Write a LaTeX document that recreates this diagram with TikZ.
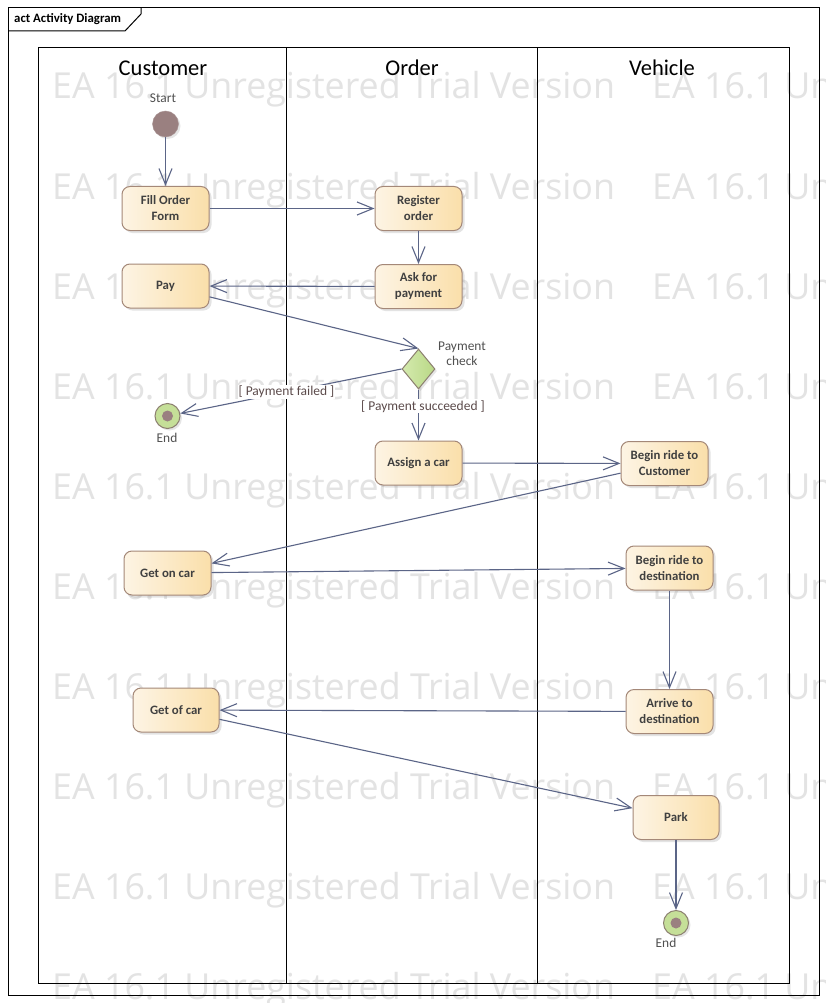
\documentclass[tikz,border=0pt]{standalone}
\usepackage{fontspec}
\setmainfont{Carlito}
\newfontfamily\wmfont{Open Sans}
\usetikzlibrary{arrows.meta,shapes.geometric,shadows}
\definecolor{edgec}{HTML}{5B6587}
\definecolor{nodeL}{HTML}{FDF4E4}
\definecolor{nodeR}{HTML}{FADFAA}
\definecolor{nodeB}{HTML}{A48878}
\definecolor{txt}{HTML}{404040}
\definecolor{lbl}{HTML}{505050}
\definecolor{guardc}{HTML}{5C4B4B}
\definecolor{startc}{HTML}{9A8080}
\definecolor{endg}{HTML}{C5DF98}
\definecolor{endb}{HTML}{8C8070}
\definecolor{decL}{HTML}{D4EAAE}
\definecolor{decR}{HTML}{B9D886}
\definecolor{wmc}{HTML}{E3E3E3}
\tikzset{
  act/.style={rounded corners=8pt, draw=nodeB, line width=1pt,
    left color=nodeL, right color=nodeR, minimum width=87pt, minimum height=44pt,
    inner sep=0pt, align=center, font=\fontsize{12.8}{16}\selectfont\bfseries, text=txt,
    drop shadow={shadow xshift=2.5pt, shadow yshift=-2.5pt, opacity=0.22}},
  startnode/.style={circle, fill=startc, draw=startc!85!white, minimum size=26pt, inner sep=0pt,
    drop shadow={shadow xshift=2pt, shadow yshift=-2pt, opacity=0.2}},
  endnode/.style={circle, fill=endg, draw=endb, line width=1pt, minimum size=25pt, inner sep=0pt,
    drop shadow={shadow xshift=2pt, shadow yshift=-2pt, opacity=0.2}},
  decnode/.style={diamond, left color=decL, right color=decR, draw=endb, line width=1pt,
    minimum width=33pt, minimum height=40pt, inner sep=0pt,
    drop shadow={shadow xshift=2pt, shadow yshift=-2pt, opacity=0.2}},
  flow/.style={draw=edgec, line width=1.1pt, -{Straight Barb[length=16pt,width=13pt,line width=1.1pt]}},
  smalllbl/.style={font=\fontsize{13.4}{15}\selectfont, text=lbl, align=center, inner sep=0pt},
  guard/.style={font=\fontsize{13.5}{15}\selectfont, text=guardc, fill=white, inner sep=1pt},
  lane/.style={font=\fontsize{22.5}{26}\selectfont, text=black, inner sep=0pt},
  wmark/.style={font=\wmfont\fontsize{35.8}{40}\selectfont, text=wmc, inner sep=0pt, anchor=base west},
  frameline/.style={draw=black, line width=1pt},
}
\begin{document}
\begin{tikzpicture}[x=1pt,y=-1pt]
\useasboundingbox (0,0) rectangle (826,1003);
\fill[white] (0,0) rectangle (826,1003);
% watermark
\begin{scope}
\clip (0,0) rectangle (826,1003);
\foreach \k in {0,...,9}{
  \node[wmark] (wma\k) at (52,{99+100*\k}) {EA 16.1 Unregistered Trial Version};
  \node[wmark] (wmb\k) at (652,{99+100*\k}) {EA 16.1 Unregistered Trial Version};
}
\end{scope}
% frame
\draw[frameline] (8,8) rectangle (819,995);
\draw[frameline] (8,31) -- (125,31) -- (141,14) -- (141,8);
\node[font=\fontsize{12.8}{15}\selectfont\bfseries, anchor=base west, inner sep=0pt] (title) at (14,23) {act Activity Diagram};
% swimlanes
\draw[line width=1pt] (38,48) rectangle (789,983);
\draw[line width=1pt] (286,48) -- (286,983);
\draw[line width=1pt] (537,48) -- (537,983);
\node[lane] (lc) at (163,68) {Customer};
\node[lane] (lo) at (412,68) {Order};
\node[lane] (lv) at (662,68) {Vehicle};
% nodes
\node[startnode] (start) at (165.5,124) {};
\node[smalllbl] (startlbl) at (163,98) {Start};
\node[act] (fill) at (165.5,208.5) {Fill Order\\Form};
\node[act] (reg) at (418.5,208.5) {Register\\order};
\node[act] (ask) at (418.5,286.5) {Ask for\\payment};
\node[act] (pay) at (165.5,286) {Pay};
\node[decnode] (dec) at (418.5,369) {};
\node[smalllbl] (declbl) at (462,354) {Payment\\check};
\node[endnode] (end1) at (167.5,416) {};
\fill[startc] (end1.center) circle (5.5pt);
\node[smalllbl] (end1lbl) at (167,438) {End};
\node[act] (assign) at (418.5,463) {Assign a car};
\node[act] (brc) at (664.5,463.5) {Begin ride to\\Customer};
\node[act] (getfon) at (167.5,573) {Get on car};
\node[act] (brd) at (669.5,568) {Begin ride to\\destination};
\node[act] (arr) at (669.5,711.5) {Arrive to\\destination};
\node[act, minimum width=86pt] (getof) at (176,710) {Get of car};
\node[act, minimum width=86pt] (park) at (676,817.5) {Park};
\node[endnode] (end2) at (676,923) {};
\fill[startc] (end2.center) circle (5.5pt);
\node[smalllbl] (end2lbl) at (666,943) {End};
% flows
\draw[flow] (start) -- (fill);
\draw[flow] (fill) -- (reg);
\draw[flow] (reg) -- (ask);
\draw[flow] (ask) -- (pay);
\draw[flow] (pay) -- (dec.north);
\draw[flow] (dec.west) -- node[guard, pos=0.52] (g1) {[ Payment failed ]} (end1);
\draw[flow] (dec.south) -- node[guard, pos=0.33, xshift=4.5pt] (g2) {[ Payment succeeded ]} (assign);
\draw[flow] (assign) -- (brc);
\draw[flow] (brc) -- (getfon);
\draw[flow] (getfon) -- (brd);
\draw[flow] (brd) -- (arr);
\draw[flow] (arr) -- (getof);
\draw[flow] (getof) -- (park);
\draw[flow] (park) -- (end2);
\end{tikzpicture}
\end{document}
